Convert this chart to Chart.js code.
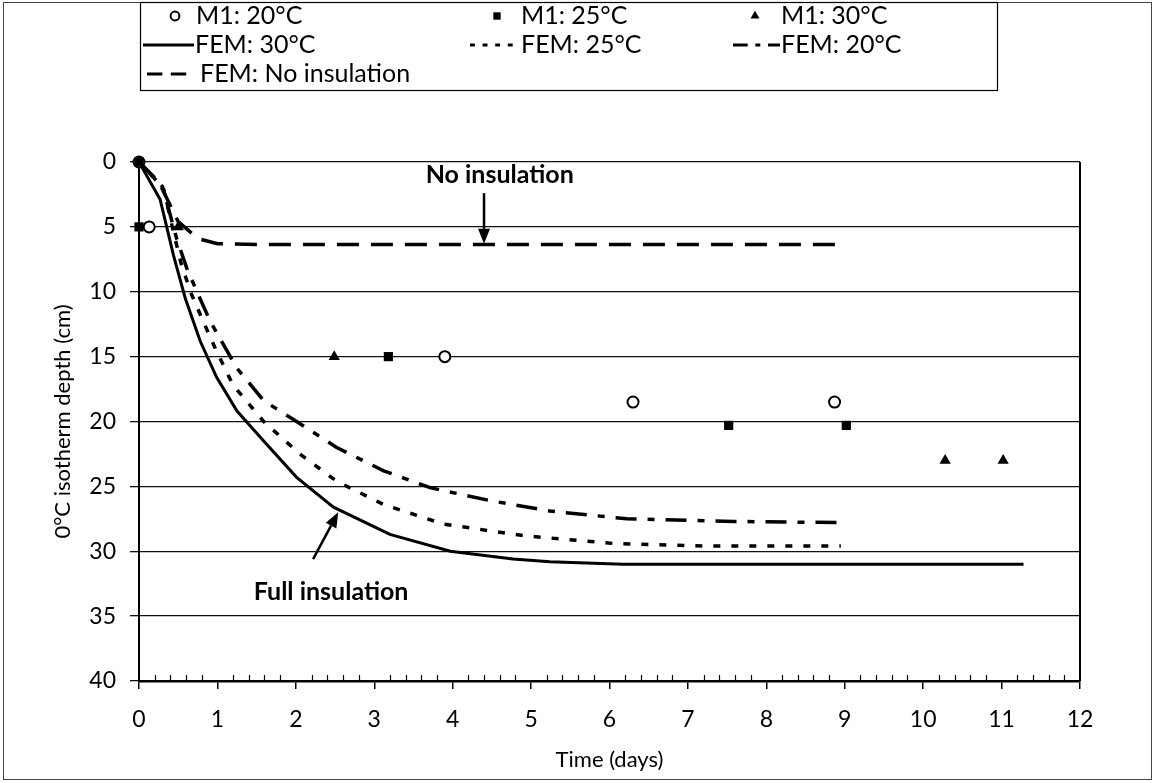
<!DOCTYPE html>
<html lang="en">
<head>
<meta charset="UTF-8">
<title>0°C isotherm depth vs time</title>
<script src="https://cdn.jsdelivr.net/npm/chart.js"></script>
<style>
    html, body {
        margin: 0;
        padding: 0;
        background: #fff;
    }
    canvas {
        display: block;
    }
</style>
</head>
<body>
<canvas id="chart" width="1155" height="783"></canvas>
<script>
    // M1 measurements (time in days, depth in cm)
    const m1_20_x = [0, 0.13, 3.9, 6.3, 8.87];
    const m1_20_y = [0, 5, 15, 18.5, 18.5];
    const m1_25_x = [0, 0, 3.18, 7.52, 9.02];
    const m1_25_y = [0, 5, 15, 20.3, 20.3];
    const m1_30_x = [0, 0.5, 2.49, 10.28, 11.02];
    const m1_30_y = [0, 5, 15, 23, 23];

    // FEM results
    const fem30_x = [0, 0.27, 0.44, 0.59, 0.78, 0.99, 1.25, 1.59, 2.01, 2.48, 3.2, 3.97, 4.77, 5.24, 6.17, 9.2, 11.28];
    const fem30_y = [0, 2.9, 7.2, 10.5, 13.8, 16.6, 19.2, 21.5, 24.3, 26.6, 28.7, 30.0, 30.6, 30.8, 31.0, 31.0, 31.0];
    const fem25_x = [0, 0.31, 0.44, 0.54, 0.67, 0.82, 0.99, 1.2, 1.59, 2.05, 2.52, 3.12, 3.88, 4.9, 6.05, 7.24, 8.95];
    const fem25_y = [0, 2.0, 5.4, 7.9, 10.2, 12.3, 14.6, 17.2, 20.0, 22.5, 24.6, 26.4, 27.9, 28.8, 29.4, 29.6, 29.6];
    const fem20_x = [0, 0.3, 0.48, 0.61, 0.74, 0.91, 1.25, 1.59, 2.01, 2.52, 3.12, 3.71, 4.48, 5.24, 6.22, 7.58, 9.0];
    const fem20_y = [0, 1.9, 5.9, 8.2, 10.0, 12.3, 15.9, 18.4, 20.0, 22.0, 23.8, 25.1, 26.1, 26.9, 27.5, 27.7, 27.8];
    const femNo_x = [0, 0.25, 0.5, 0.75, 1.0, 1.5, 2, 3, 4, 5, 6, 7, 8, 8.94];
    const femNo_y = [0, 1.5, 4.6, 5.9, 6.3, 6.35, 6.35, 6.35, 6.35, 6.35, 6.35, 6.35, 6.35, 6.35];

    const xTicks = [0, 1, 2, 3, 4, 5, 6, 7, 8, 9, 10, 11, 12];
    const yTicks = [0, 5, 10, 15, 20, 25, 30, 35, 40];

    const FONT = 'Lato, "Open Sans", sans-serif';

    function pts(xs, ys) {
        return xs.map((x, i) => ({ x: x, y: ys[i] }));
    }

    const datasets = [
        {
            label: 'M1: 25°C', data: pts(m1_25_x, m1_25_y), showLine: false, clip: false,
            pointStyle: 'rect', pointRadius: 6.5, backgroundColor: '#000', borderColor: '#000', borderWidth: 0
        },
        {
            label: 'M1: 30°C', data: pts(m1_30_x, m1_30_y), showLine: false, clip: false,
            pointStyle: 'triangle', pointRadius: 6.5, backgroundColor: '#000', borderColor: '#000', borderWidth: 0
        },
        {
            label: 'M1: 20°C', data: pts(m1_20_x, m1_20_y), showLine: false, clip: false,
            pointStyle: 'circle', pointRadius: 5.5, backgroundColor: '#fff', borderColor: '#000', borderWidth: 2
        },
        {
            label: 'FEM: 30°C', data: pts(fem30_x, fem30_y), showLine: true,
            pointRadius: 0, borderColor: '#000', borderWidth: 3, borderDash: []
        },
        {
            label: 'FEM: 25°C', data: pts(fem25_x, fem25_y), showLine: true,
            pointRadius: 0, borderColor: '#000', borderWidth: 3.5, borderDash: [7, 11]
        },
        {
            label: 'FEM: 20°C', data: pts(fem20_x, fem20_y), showLine: true,
            pointRadius: 0, borderColor: '#000', borderWidth: 3.5, borderDash: [21, 11, 7, 11]
        },
        {
            label: 'FEM: No insulation', data: pts(femNo_x, femNo_y), showLine: true,
            pointRadius: 0, borderColor: '#000', borderWidth: 3.5, borderDash: [22, 12]
        }
    ];

    function arrow(ctx, x1, y1, x2, y2) {
        const ang = Math.atan2(y2 - y1, x2 - x1);
        const len = 15, half = 6;
        ctx.beginPath();
        ctx.moveTo(x1, y1);
        ctx.lineTo(x2 - Math.cos(ang) * len, y2 - Math.sin(ang) * len);
        ctx.lineWidth = 2.5;
        ctx.stroke();
        ctx.beginPath();
        ctx.moveTo(x2, y2);
        ctx.lineTo(x2 - Math.cos(ang) * len - Math.sin(ang) * half, y2 - Math.sin(ang) * len + Math.cos(ang) * half);
        ctx.lineTo(x2 - Math.cos(ang) * len + Math.sin(ang) * half, y2 - Math.sin(ang) * len - Math.cos(ang) * half);
        ctx.closePath();
        ctx.fill();
    }

    // frame, right border, minor ticks, annotations and the boxed legend
    const extras = {
        id: 'extras',
        afterDraw(chart) {
            const ctx = chart.ctx;
            const area = chart.chartArea;
            const xs = chart.scales.x, ys = chart.scales.y;
            ctx.save();
            ctx.strokeStyle = '#000';
            ctx.fillStyle = '#000';

            // outer frame
            ctx.lineWidth = 1;
            ctx.strokeStyle = '#444';
            ctx.strokeRect(3.5, 2.5, 1148, 777);
            ctx.strokeStyle = '#000';

            // right side of plot area
            ctx.lineWidth = 2;
            ctx.beginPath();
            ctx.moveTo(area.right, area.top);
            ctx.lineTo(area.right, area.bottom);
            ctx.stroke();

            // minor ticks on the time axis, pointing inward
            ctx.lineWidth = 1.2;
            ctx.beginPath();
            for (let v = 0.2; v < 12; v += 0.2) {
                if (Math.abs(v - Math.round(v)) < 0.01) continue;
                const px = Math.round(xs.getPixelForValue(v)) + 0.5;
                ctx.moveTo(px, area.bottom);
                ctx.lineTo(px, area.bottom - 6);
            }
            ctx.stroke();

            // annotations
            ctx.font = 'bold 25px ' + FONT;
            ctx.textAlign = 'center';
            ctx.textBaseline = 'middle';
            ctx.fillText('No insulation', xs.getPixelForValue(4.6), ys.getPixelForValue(1.0));
            arrow(ctx, xs.getPixelForValue(4.4), ys.getPixelForValue(2.4), xs.getPixelForValue(4.4), ys.getPixelForValue(6.3));
            ctx.fillText('Full insulation', xs.getPixelForValue(2.45), ys.getPixelForValue(33.1));
            arrow(ctx, xs.getPixelForValue(2.22), ys.getPixelForValue(30.6), xs.getPixelForValue(2.54), ys.getPixelForValue(27.0));

            // legend box
            ctx.lineWidth = 1.2;
            ctx.strokeRect(140.5, 2.5, 857, 88);
            ctx.font = '25px ' + FONT;
            ctx.textAlign = 'left';
            const ds = chart.data.datasets;
            const byLabel = l => ds.find(d => d.label === l);
            const items = [
                { l: 'M1: 20°C', kind: 'point', x0: 175, tx: 196, y: 16 },
                { l: 'M1: 25°C', kind: 'point', x0: 497, tx: 521, y: 16 },
                { l: 'M1: 30°C', kind: 'point', x0: 755, tx: 781, y: 16 },
                { l: 'FEM: 30°C', kind: 'line', x0: 143, x1: 194, tx: 195, y: 45 },
                { l: 'FEM: 25°C', kind: 'line', x0: 470, x1: 520, tx: 521, y: 45 },
                { l: 'FEM: 20°C', kind: 'line', x0: 733, x1: 780, tx: 781, y: 45 },
                { l: 'FEM: No insulation', kind: 'line', x0: 147, x1: 193, tx: 200, y: 74 }
            ];
            items.forEach(it => {
                const d = byLabel(it.l);
                if (it.kind === 'point') {
                    ctx.save();
                    ctx.fillStyle = d.backgroundColor;
                    ctx.strokeStyle = d.borderColor;
                    ctx.lineWidth = d.borderWidth;
                    Chart.helpers.drawPoint(ctx, {
                        pointStyle: d.pointStyle, radius: d.pointRadius * 0.8, borderWidth: d.borderWidth, rotation: 0
                    }, it.x0, it.y);
                    ctx.restore();
                } else {
                    ctx.save();
                    ctx.lineWidth = 3;
                    ctx.setLineDash(d.borderDash.length ? d.borderDash.map(v => v * 0.7) : []);
                    ctx.beginPath();
                    ctx.moveTo(it.x0, it.y);
                    ctx.lineTo(it.x1, it.y);
                    ctx.stroke();
                    ctx.restore();
                }
                ctx.fillStyle = '#000';
                ctx.fillText(it.l, it.tx, it.y);
            });
            ctx.restore();
        }
    };

    new Chart(document.getElementById('chart'), {
        type: 'scatter',
        data: { datasets: datasets },
        options: {
            responsive: false,
            animation: false,
            layout: { padding: { left: 0, top: 162, right: 75, bottom: 0 } },
            plugins: {
                legend: { display: false },
                tooltip: { enabled: false }
            },
            scales: {
                x: {
                    type: 'linear',
                    min: 0,
                    max: 12,
                    afterBuildTicks: scale => { scale.ticks = xTicks.map(v => ({ value: v })); },
                    afterFit: scale => { scale.height = 102; },
                    grid: { drawOnChartArea: false, drawTicks: true, tickLength: 8, color: '#000', lineWidth: 1.5 },
                    border: { color: '#000', width: 2.5 },
                    ticks: { color: '#000', font: { family: FONT, size: 23 }, padding: 17, maxRotation: 0 },
                    title: {
                        display: true, text: 'Time (days)', color: '#000',
                        font: { family: FONT, size: 22 }, padding: { top: 0, bottom: 10 }
                    }
                },
                y: {
                    type: 'linear',
                    reverse: true,
                    min: 0,
                    max: 40,
                    afterBuildTicks: scale => { scale.ticks = yTicks.map(v => ({ value: v })); },
                    afterFit: scale => { scale.width = 139; },
                    grid: { color: '#111', lineWidth: 1.3, drawTicks: true, tickLength: 9 },
                    border: { color: '#000', width: 2 },
                    ticks: { color: '#000', font: { family: FONT, size: 23 }, padding: 14 },
                    title: {
                        display: true, text: '0°C isotherm depth (cm)', color: '#000',
                        font: { family: FONT, size: 22 }, padding: { top: 50, bottom: 0 }
                    }
                }
            }
        },
        plugins: [extras]
    });
</script>
</body>
</html>
